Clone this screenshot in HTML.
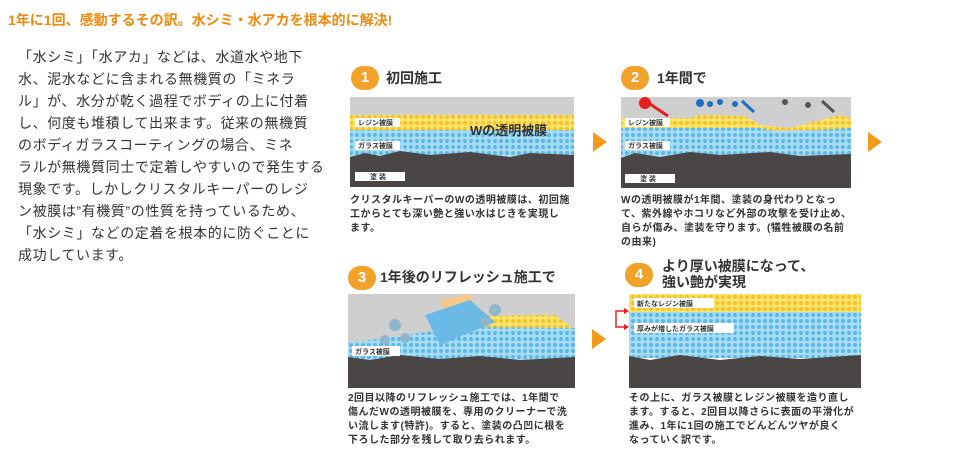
<!DOCTYPE html>
<html><head><meta charset="utf-8"><style>
body{margin:0;width:970px;height:457px;background:#fff;font-family:"Liberation Sans","Noto Sans CJK JP",sans-serif;position:relative;overflow:hidden}
.a{position:absolute}
h1{position:absolute;left:8px;top:10px;margin:0;font-size:14px;color:#ef8a0e;font-weight:bold}
.p{left:18px;top:46px;font-size:14px;letter-spacing:0.6px;line-height:22px;color:#333;white-space:nowrap}
.badge{position:absolute;width:28px;height:24px;border-radius:12px;background:#f2a12a;color:#fff;font-size:15px;text-align:center;line-height:24px;font-weight:bold}
.tt{position:absolute;font-size:14px;font-weight:bold;color:#333}
.d{position:absolute;font-size:10px;letter-spacing:0.5px;line-height:14px;color:#333;font-weight:bold;white-space:nowrap}
.arr{position:absolute;width:0;height:0;border-top:10px solid transparent;border-bottom:10px solid transparent;border-left:14px solid #f29a1c}
.lb{font-family:"Liberation Sans","Noto Sans CJK JP",sans-serif;font-size:7px;font-weight:bold;fill:#333}
</style></head><body>
<h1>1年に1回、感動するその訳。水シミ・水アカを根本的に解決!</h1>
<div class="a p">「水シミ」「水アカ」などは、水道水や地下<br>水、泥水などに含まれる無機質の「ミネラ<br>ル」が、水分が乾く過程でボディの上に付着<br>し、何度も堆積して出来ます。従来の無機質<br>のボディガラスコーティングの場合、ミネ<br>ラルが無機質同士で定着しやすいので発生する<br>現象です。しかしクリスタルキーパーのレジ<br>ン被膜は”有機質”の性質を持っているため、<br>「水シミ」などの定着を根本的に防ぐことに<br>成功しています。</div>

<svg class="a" style="left:0;top:0" width="970" height="457">
<defs>
<pattern id="y" width="6" height="6" patternUnits="userSpaceOnUse"><rect width="6" height="6" fill="#fbe46a"/><circle cx="3" cy="3" r="2" fill="#f5c230"/></pattern>
<pattern id="b" width="6" height="6" patternUnits="userSpaceOnUse"><rect width="6" height="6" fill="#a8dcf3"/><circle cx="3" cy="3" r="2" fill="#5cb8e6"/></pattern>
</defs>
<!-- panel1 -->
<rect x="350" y="97" width="224" height="90" fill="#cfcfcf"/>
<rect x="350" y="115" width="224" height="15" fill="url(#y)"/>
<rect x="350" y="130" width="224" height="30" fill="url(#b)"/>
<path d="M350 157 L365 153 L380 156 L400 151 L430 155 L470 152 L510 157 L530 153 L574 155 L574 187 L350 187Z" fill="#4a4645"/>
<rect x="355" y="118" width="45" height="9" fill="#fff"/><text x="358" y="125" class="lb">レジン被膜</text>
<rect x="355" y="141" width="45" height="9" fill="#fff"/><text x="358" y="148" class="lb">ガラス被膜</text>
<rect x="355" y="172" width="50" height="9" fill="#fff"/><text x="370" y="179" class="lb">塗 装</text>
<text x="470" y="135" font-size="13" font-weight="bold" fill="#333" font-family="Liberation Sans,Noto Sans CJK JP,sans-serif">Wの透明被膜</text>
<!-- panel2 -->
<rect x="621" y="97" width="230" height="91" fill="#cfcfcf"/>
<path d="M621 118 L690 118 L700 115 L745 116 L760 125 L790 128 L840 115 L851 118 L851 130 L621 130Z" fill="url(#y)"/>
<path d="M621 128 L760 128 L780 132 L851 128 L851 160 L621 160Z" fill="url(#b)"/>
<path d="M621 158 L635 153 L660 157 L690 152 L720 155 L770 152 L800 156 L851 154 L851 188 L621 188Z" fill="#4a4645"/>
<circle cx="645" cy="103" r="6" fill="#e62020"/><path d="M650 104 L668 116" stroke="#e62020" stroke-width="3"/>
<circle cx="700" cy="103" r="4" fill="#1a6fc4"/><circle cx="710" cy="104" r="3" fill="#1a6fc4"/><circle cx="720" cy="102" r="3" fill="#1a6fc4"/><circle cx="735" cy="104" r="3" fill="#1a6fc4"/><path d="M742 101 L754 112" stroke="#1a6fc4" stroke-width="3"/>
<circle cx="785" cy="102" r="3" fill="#555"/><circle cx="808" cy="105" r="3" fill="#555"/><path d="M822 101 L834 112" stroke="#555" stroke-width="3"/>
<rect x="625" y="118" width="45" height="9" fill="#fff"/><text x="628" y="125" class="lb">レジン被膜</text>
<rect x="625" y="141" width="45" height="9" fill="#fff"/><text x="628" y="148" class="lb">ガラス被膜</text>
<rect x="625" y="174" width="50" height="9" fill="#fff"/><text x="640" y="181" class="lb">塗 装</text>
<!-- panel3 -->
<rect x="348" y="294" width="227" height="94" fill="#cfcfcf"/>
<path d="M460 316 L555 315 L575 330 L575 342 L460 342Z" fill="url(#y)"/>
<path d="M348 343 L420 333 L460 327 L575 328 L575 365 L348 365Z" fill="url(#b)"/>
<path d="M348 357 L370 360 L400 355 L440 359 L480 356 L520 360 L575 357 L575 388 L348 388Z" fill="#4a4645"/>
<path d="M440 300 L470 294 L480 320 L450 332Z" fill="#f6c98a"/>
<path d="M425 315 L470 300 L495 322 L440 345Z" fill="#6ab9e6"/>
<circle cx="395" cy="325" r="6" fill="#8fb6cc"/><circle cx="405" cy="338" r="5" fill="#8fb6cc"/><circle cx="385" cy="340" r="5" fill="#8fb6cc"/><circle cx="495" cy="310" r="6" fill="#8fb6cc"/><circle cx="485" cy="322" r="5" fill="#8fb6cc"/>
<rect x="352" y="346" width="48" height="10" fill="#fff"/><text x="355" y="354" class="lb">ガラス被膜</text>
<!-- panel4 -->
<rect x="629" y="294" width="232" height="18" fill="url(#y)"/>
<rect x="629" y="312" width="232" height="46" fill="url(#b)"/>
<path d="M629 356 L650 360 L680 355 L720 360 L760 356 L800 359 L861 355 L861 388 L629 388Z" fill="#4a4645"/>
<rect x="634" y="298" width="80" height="10" fill="#fff"/><text x="637" y="306" class="lb">新たなレジン被膜</text>
<rect x="634" y="323" width="100" height="10" fill="#fff"/><text x="637" y="331" class="lb">厚みが増したガラス被膜</text>
<path d="M625 311 L616 311 L616 327 L625 327" stroke="#e62020" fill="none" stroke-width="1.5"/>
<path d="M629 311 L624 308 L624 314Z M629 327 L624 324 L624 330Z" fill="#e62020"/>
</svg>

<div class="badge" style="left:351px;top:66px">1</div><div class="tt" style="left:386px;top:68px">初回施工</div>
<div class="badge" style="left:621px;top:66px">2</div><div class="tt" style="left:657px;top:68px">1年間で</div>
<div class="badge" style="left:348px;top:266px">3</div><div class="tt" style="left:380px;top:267px">1年後のリフレッシュ施工で</div>
<div class="badge" style="left:625px;top:263px">4</div><div class="tt" style="left:662px;top:258px;line-height:16px">より厚い被膜になって、<br>強い艶が実現</div>

<div class="arr" style="left:593px;top:132px"></div>
<div class="arr" style="left:868px;top:132px"></div>
<div class="arr" style="left:592px;top:329px"></div>

<div class="d" style="left:350px;top:194px">クリスタルキーパーのWの透明被膜は、初回施<br>工からとても深い艶と強い水はじきを実現し<br>ます。</div>
<div class="d" style="left:621px;top:194px">Wの透明被膜が1年間、塗装の身代わりとなっ<br>て、紫外線やホコリなど外部の攻撃を受け止め、<br>自らが傷み、塗装を守ります。(犠牲被膜の名前<br>の由来)</div>
<div class="d" style="left:348px;top:392px">2回目以降のリフレッシュ施工では、1年間で<br>傷んだWの透明被膜を、専用のクリーナーで洗<br>い流します(特許)。すると、塗装の凸凹に根を<br>下ろした部分を残して取り去られます。</div>
<div class="d" style="left:629px;top:392px">その上に、ガラス被膜とレジン被膜を造り直し<br>ます。すると、2回目以降さらに表面の平滑化が<br>進み、1年に1回の施工でどんどんツヤが良く<br>なっていく訳です。</div>
</body></html>
